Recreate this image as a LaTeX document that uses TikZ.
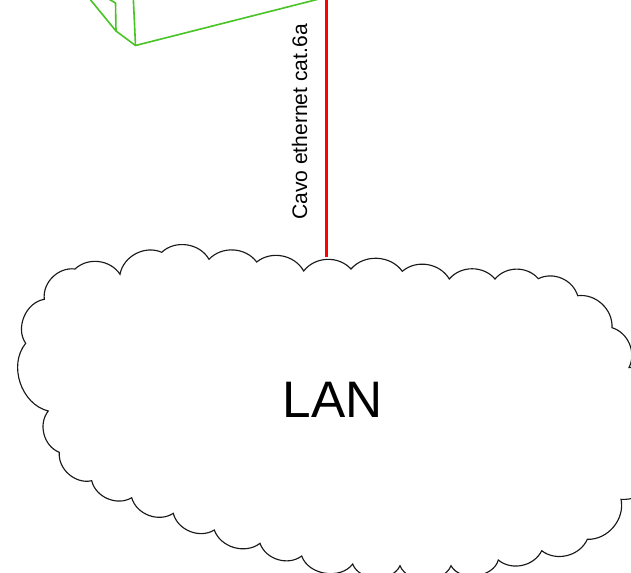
\documentclass[tikz,border=0pt]{standalone}
\usepackage{fontspec}
\setmainfont{Liberation Sans}
\definecolor{cablered}{RGB}{255,0,0}
\definecolor{boxgreen}{RGB}{72,196,36}
\tikzset{
  bump/.style={bend left=#1},
  cloudline/.style={draw=black!90,line width=0.85pt,line join=miter},
  boxline/.style={draw=boxgreen,line width=1.2pt,line join=round},
  cable/.style={draw=cablered,line width=2pt},
}
\begin{document}
\begin{tikzpicture}[x=0.75pt,y=-0.75pt]
\useasboundingbox (0,0) rectangle (631,572);
\clip (0,0) rectangle (631,572);
\fill[white] (0,0) rectangle (631,572);
% green box corner
\coordinate (boxA) at (135.5,45.5);
\coordinate (boxB) at (116,31);
\coordinate (boxC) at (115.5,3);
\coordinate (boxD) at (107,-2);
\coordinate (boxE) at (89,-2);
\coordinate (boxF) at (133.3,-2);
\coordinate (boxG) at (323,-2);
\draw[boxline] (boxG) -- (boxA) -- (boxF);
\draw[boxline] (boxA) -- (boxB) -- (boxE);
\draw[boxline] (boxB) -- (boxC) -- (boxD);
% cloud
\draw[cloudline]
 (25.7,343.3) to[bump=58] (44.3,299.3)
 to[bump=52] (75,269)
 to[bump=50] (120,274.3)
 to[bump=52] (161.7,252.3)
 to[bump=52] (209,259.3)
 to[bump=50] (256.7,262)
 to[bump=50] (303.7,271)
 to[bump=50] (351,269)
 to[bump=52] (402.3,271.3)
 to[bump=50] (449.3,279)
 to[bump=50] (495,279)
 to[bump=50] (538.3,278.7)
 to[bump=50] (577.7,295.7)
 to[bump=50] (612,327.7)
 to[bump=50] (629,367.5)
 to[bump=50] (662,405)
 to[bump=50] (660,460)
 to[bump=50] (621,499.3)
 to[bump=52] (587.3,539.3)
 to[bump=52] (541.7,550.7)
 to[bump=52] (498.3,560)
 to[bump=68] (451,565.7)
 to[bump=68] (400,565.7)
 to[bump=68] (352.7,564)
 to[bump=62] (301.7,556)
 to[bump=54] (260,543.3)
 to[bump=54] (214.3,530)
 to[bump=54] (173.3,513.3)
 to[bump=54] (131.7,497.7)
 to[bump=54] (91.7,480.7)
 to[bump=54] (59.3,452.3)
 to[bump=54] (48.3,411)
 to[bump=58] cycle;
% cable
\coordinate (cableTop) at (326.7,-3);
\coordinate (cloudTop) at (326.7,257);
\draw[cable] (cableTop) -- (cloudTop);
\node[rotate=90,inner sep=0pt,font=\fontsize{15.8}{19}\selectfont] (cableLabel) at (299.7,122) {Cavo ethernet cat.6a};
\node[inner sep=0pt,font=\fontsize{38.5}{46}\selectfont] (lan) at (332.5,399.5) {LAN};
\end{tikzpicture}
\end{document}
